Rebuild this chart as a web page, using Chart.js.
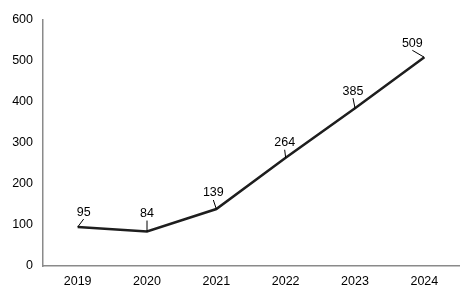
<!DOCTYPE html>
<html>
<head>
<meta charset="utf-8">
<script src="https://cdn.jsdelivr.net/npm/chart.js@4"></script>
<style>
  html, body { margin: 0; padding: 0; background: #fff; }
  #wrap { width: 467px; height: 294px; }
</style>
</head>
<body>
<div id="wrap"><canvas id="chart"></canvas></div>
<script>
const years = ['2019', '2020', '2021', '2022', '2023', '2024'];
const values = [95, 84, 139, 264, 385, 509];
const yTicks = [0, 100, 200, 300, 400, 500, 600];

// where each value label sits relative to its point (px)
const LABEL_SHIFT = [[6, -15], [0, -18], [-3, -16], [-1, -15], [-2, -17], [-12, -14]];

const FONT = 'Liberation Sans, Arial, sans-serif';
const LINE_COLOR = '#1e1e1e';
const AXIS_COLOR = '#8a8a8a';

const leaderLabels = {
  id: 'leaderLabels',
  afterDatasetsDraw(chart) {
    const ctx = chart.ctx;
    const meta = chart.getDatasetMeta(0);
    ctx.save();
    ctx.font = '12.5px ' + FONT;
    ctx.fillStyle = '#000';
    ctx.textAlign = 'center';
    ctx.textBaseline = 'middle';
    ctx.strokeStyle = '#000';
    ctx.lineWidth = 1;
    meta.data.forEach((pt, i) => {
      const [dx, dy] = LABEL_SHIFT[i];
      const lx = pt.x + dx, ly = pt.y + dy;
      ctx.beginPath();
      ctx.moveTo(pt.x, pt.y);
      ctx.lineTo(lx, ly + 7);
      ctx.stroke();
      ctx.fillText(String(values[i]), lx, ly);
    });
    ctx.restore();
  }
};

new Chart(document.getElementById('chart'), {
  type: 'line',
  data: {
    labels: years,
    datasets: [{
      data: values,
      borderColor: LINE_COLOR,
      borderWidth: 2.5,
      pointRadius: 0,
      tension: 0,
      fill: false,
    }],
  },
  options: {
    responsive: true,
    maintainAspectRatio: false,
    animation: false,
    layout: { padding: { top: 20, right: 8, left: 0, bottom: 0 } },
    plugins: {
      legend: { display: false },
      tooltip: { enabled: false },
    },
    scales: {
      x: {
        offset: true,
        grid: { display: false, drawTicks: false },
        border: { display: true, color: AXIS_COLOR, width: 1.5 },
        ticks: { color: '#000', font: { family: FONT, size: 12.5 }, padding: 8, maxRotation: 0 },
        afterFit(scale) { scale.height = 28; },
      },
      y: {
        min: 0,
        max: 600,
        grid: { display: false, drawTicks: false },
        border: { display: true, color: AXIS_COLOR, width: 1.5 },
        afterBuildTicks(scale) { scale.ticks = yTicks.map(v => ({ value: v })); },
        ticks: { color: '#000', font: { family: FONT, size: 12.5 }, padding: 10 },
        afterFit(scale) { scale.width = 43; },
      },
    },
  },
  plugins: [leaderLabels],
});
</script>
</body>
</html>
